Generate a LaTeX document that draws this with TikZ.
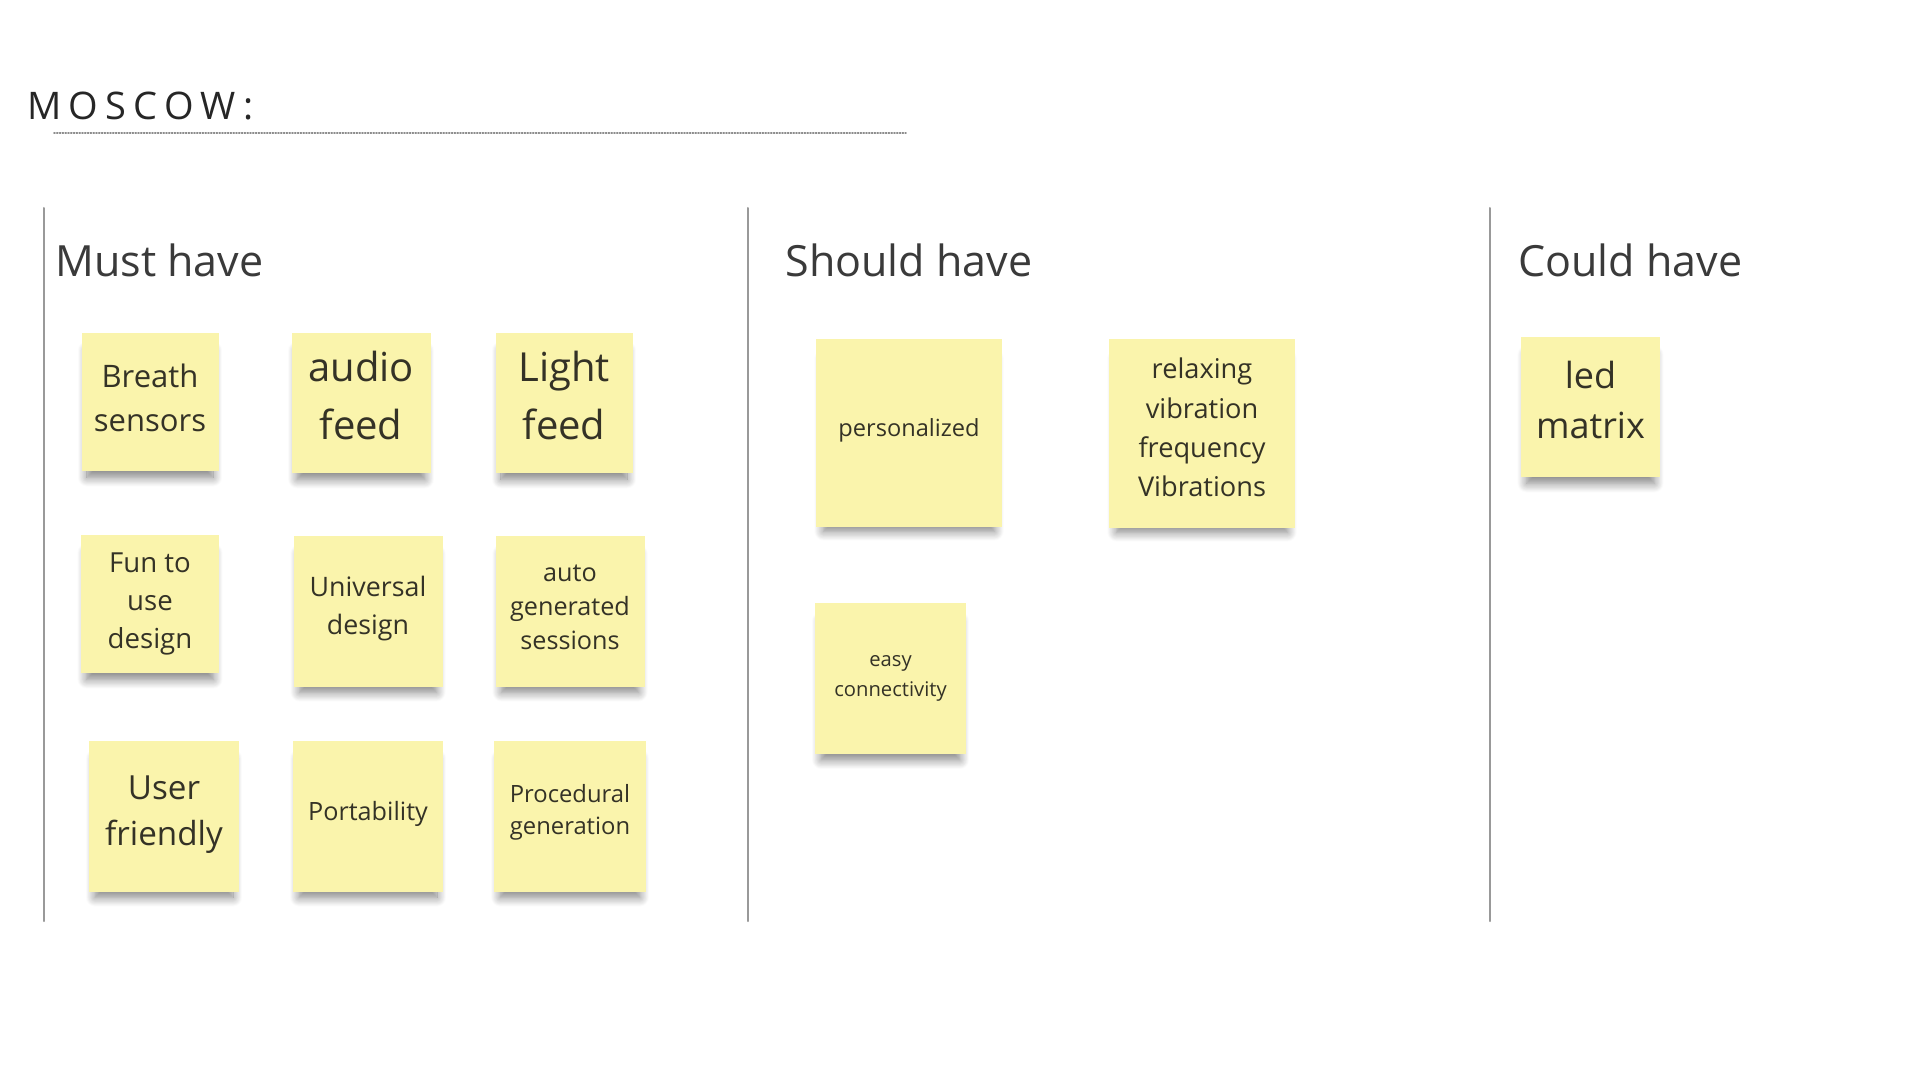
\documentclass[tikz,border=0pt]{standalone}
\usepackage{fontspec}
\setmainfont{Open Sans}
\newfontfamily\titlefont[LetterSpace=19]{Open Sans}
\usetikzlibrary{shadows.blur}
\definecolor{notefill}{RGB}{250,244,172}
\definecolor{notetext}{RGB}{52,50,38}
\definecolor{headtext}{RGB}{58,58,58}
\newcommand{\nfont}[2]{\fontsize{#1}{#2}\selectfont}

\begin{document}
\begin{tikzpicture}[line cap=round,line join=round,x=0.5pt,y=-0.5pt,
  note/.style={fill=notefill,text=notetext,align=center,inner sep=0pt,
    blur shadow={shadow xshift=0pt,shadow yshift=-6.5pt,shadow scale=0.92,
      shadow blur radius=5pt,shadow blur steps=12,shadow opacity=50}},
  colhead/.style={anchor=base west,text=headtext,inner sep=0pt,font=\nfont{21.5}{26}},
  colline/.style={draw=black!40,line width=1pt}]%MoSCoW
			\useasboundingbox (0,0) rectangle (1920,1080);
			\node[anchor=base west,inner sep=0pt,text=black!85] (title) at (27,120) {\titlefont\nfont{19}{23}MOSCOW:};
			\draw [black!45,line width=0.8pt,dash pattern=on 0.5pt off 0.9pt] (54,133)-- (906,133);
			\draw [colline] (44,208)-- (44,921);
			\draw [colline] (748,208)-- (748,921);
			\draw [colline] (1490,208)-- (1490,921);
			\node[colhead] (must) at (55,277) {Must have};
			\node[colhead] (should) at (785,277) {Should have};
			\node[colhead] (could) at (1518,277) {Could have};
			\node[note,minimum width=68.5pt,minimum height=69pt,text depth=4.5pt,font=\nfont{15.5}{21.8}] (breath) at (150,402) {Breath\\sensors};
			\node[note,minimum width=69.5pt,minimum height=70pt,text depth=7.5pt,font=\nfont{20}{29}] (audio) at (361,403) {audio\\feed};
			\node[note,minimum width=68.5pt,minimum height=70pt,text depth=7.5pt,font=\nfont{20}{29}] (light) at (564,403) {Light\\feed};
			\node[note,minimum width=69pt,minimum height=69pt,font=\nfont{13.8}{18.9}] (fun) at (150,604) {Fun to\\use\\design};
			\node[note,minimum width=74.5pt,minimum height=75.5pt,text depth=5.6pt,font=\nfont{13.4}{18.9}] (universal) at (368,611) {Universal\\design};
			\node[note,minimum width=74.5pt,minimum height=75.5pt,text depth=3.8pt,font=\nfont{12.6}{17.2}] (auto) at (570,611) {auto\\generated\\sessions};
			\node[note,minimum width=75pt,minimum height=75.5pt,text depth=5.8pt,font=\nfont{16.6}{23}] (user) at (164,816) {User\\friendly};
			\node[note,minimum width=75pt,minimum height=75.5pt,text depth=5pt,font=\nfont{12.6}{17}] (portable) at (368,816) {Portability};
			\node[note,minimum width=76pt,minimum height=75.5pt,text depth=6.5pt,font=\nfont{11.9}{16.1}] (procedural) at (570,816) {Procedural\\generation};
			\node[note,minimum width=93pt,minimum height=94pt,text depth=5.2pt,font=\nfont{11.8}{16}] (personal) at (909,433) {personalized};
			\node[note,minimum width=93pt,minimum height=94.5pt,text depth=6.2pt,font=\nfont{13.6}{19.6}] (relax) at (1202,433.5) {relaxing\\vibration\\frequency\\Vibrations};
			\node[note,minimum width=75.5pt,minimum height=75.5pt,font=\nfont{10.1}{15}] (easy) at (890.5,678.5) {easy\\connectivity};
			\node[note,minimum width=69.5pt,minimum height=70pt,text depth=7.5pt,font=\nfont{18}{25}] (led) at (1590.5,407) {led\\matrix};
		\end{tikzpicture}
\end{document}
